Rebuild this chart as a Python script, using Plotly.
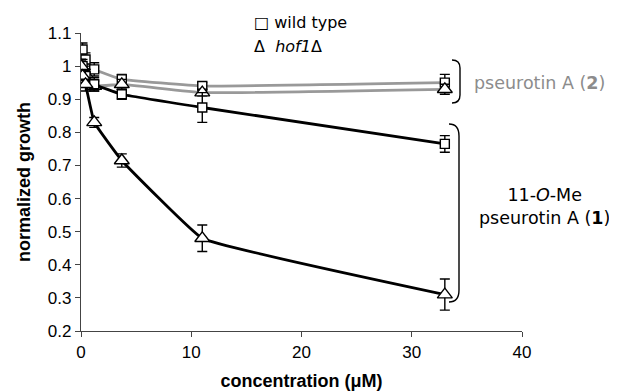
import plotly.graph_objects as go

# ---- data ----
conc = [0, 0.14, 0.41, 1.2, 3.7, 11, 33]
wt_2 = [1.0, 1.05, 1.02, 0.99, 0.96, 0.94, 0.95]
wt_2_err = [0.02, 0.02, 0.02, 0.02, 0.015, 0.01, 0.025]
hof_2 = [1.0, 0.99, 0.975, 0.94, 0.945, 0.92, 0.93]
hof_2_err = [0.015, 0.015, 0.015, 0.015, 0.015, 0.01, 0.015]
wt_1 = [1.0, 1.0, 0.97, 0.945, 0.915, 0.875, 0.765]
wt_1_err = [0.02, 0.02, 0.02, 0.02, 0.015, 0.045, 0.025]
hof_1 = [1.0, 0.97, 0.945, 0.83, 0.715, 0.48, 0.31]
hof_1_err = [0.02, 0.02, 0.02, 0.015, 0.02, 0.04, 0.047]

x_ticks = [0, 10, 20, 30, 40]
y_ticks = [0.2, 0.3, 0.4, 0.5, 0.6, 0.7, 0.8, 0.9, 1.0, 1.1]
y_ticklabels = ["0.2", "0.3", "0.4", "0.5", "0.6", "0.7", "0.8", "0.9", "1", "1.1"]

# page body has an 8px margin; figure is sized to fit the window
OFF = 8
W, H = 617 - OFF, 391 - OFF
L, R, T, B = 81 - OFF, 95, 33 - OFF, 68 - OFF
PW, PH = W - L - R, H - T - B


def px(x):
    return (x - OFF - L) / PW


def py(y):
    return (H - B - (y - OFF)) / PH


fig = go.Figure()


def add(y, err, color, symbol, size):
    fig.add_trace(go.Scatter(
        x=conc, y=y, mode="lines+markers",
        line=dict(color=color, width=2.8, shape="spline", smoothing=0.25),
        marker=dict(symbol=symbol, size=size, color="white",
                    line=dict(color="black", width=1.4)),
        error_y=dict(type="data", array=err, color="black", thickness=1.4, width=5),
        showlegend=False,
    ))


add(wt_2, wt_2_err, "#999999", "square", 9)
add(hof_2, hof_2_err, "#999999", "triangle-up", 13)
add(wt_1, wt_1_err, "black", "square", 9)
add(hof_1, hof_1_err, "black", "triangle-up", 13)

afam = "Liberation Sans, Arial, sans-serif"
font_ax = dict(family=afam, size=17, color="black")
fig.update_xaxes(range=[0, 40], tickvals=x_ticks, showgrid=False, automargin=False,
                 zeroline=False, showline=True, linecolor="#444", linewidth=1.3,
                 ticks="outside", ticklen=5, tickcolor="#444", tickfont=font_ax,
                 title=dict(text="<b>concentration (μM)</b>", font=dict(family=afam, size=18, color="black"), standoff=18))
fig.update_yaxes(range=[0.2, 1.1], tickvals=y_ticks, ticktext=y_ticklabels,
                 showgrid=False, zeroline=False, showline=True, linecolor="#444", linewidth=1.3,
                 automargin=False,
                 ticks="outside", ticklen=5, tickcolor="#444", tickfont=font_ax,
                 title=dict(text="<b>normalized growth</b>", font=dict(family=afam, size=18, color="black"), standoff=12))

vfont = "DejaVu Sans, Verdana, sans-serif"
ann = [
    dict(x=px(252), y=py(22), text="□ wild type", xanchor="left", font=dict(family=vfont, size=16, color="black")),
    dict(x=px(252), y=py(46), text="Δ  <i>hof1</i>Δ", xanchor="left", font=dict(family=vfont, size=16, color="black")),
    dict(x=px(472), y=py(83), text="pseurotin A (<b>2</b>)", xanchor="left", font=dict(family=vfont, size=17.5, color="#8c8c8c")),
    dict(x=px(544), y=py(207), text="11-<i>O</i>-Me<br>pseurotin A (<b>1</b>)", xanchor="center", align="center",
         font=dict(family=vfont, size=17.5, color="black")),
]
for a in ann:
    a.update(xref="paper", yref="paper", showarrow=False, yanchor="middle")
fig.update_layout(annotations=ann)


def bracket(x0, x1, y0, y1, r):
    return ("M {a},{b} Q {c},{b} {c},{d} L {c},{e} Q {c},{f} {a},{f}".format(
        a=px(x0), b=py(y0), c=px(x1), d=py(y0 + r), e=py(y1 - r), f=py(y1)))


fig.add_shape(type="path", xref="paper", yref="paper", path=bracket(449, 459, 124, 302, 12),
              line=dict(color="black", width=1.4))
fig.add_shape(type="path", xref="paper", yref="paper", path=bracket(452, 460, 60, 103, 8),
              line=dict(color="black", width=1.4))

fig.update_layout(width=W, height=H, margin=dict(l=L, r=R, t=T, b=B),
                  plot_bgcolor="white", paper_bgcolor="white")
fig.write_html("out.html")
